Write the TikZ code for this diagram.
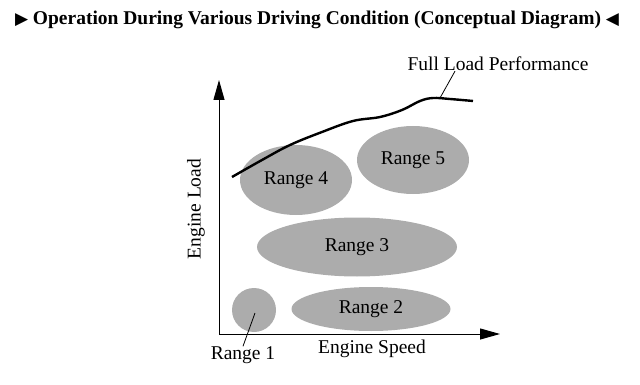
\documentclass[tikz,border=0pt]{standalone}
\usepackage{fontspec}
\setmainfont{Liberation Serif}
\newfontfamily\symfont{DejaVu Sans}
\usetikzlibrary{arrows.meta,shapes.geometric}
\tikzset{
  blob/.style={ellipse, fill=gray!65, inner sep=0pt, font=\fontsize{19.5}{21}\selectfont},
  lbl/.style={font=\fontsize{19.5}{21}\selectfont, inner sep=0pt},
  axis/.style={line width=1pt, -{Triangle[length=20pt,width=11pt]}},
  leader/.style={line width=0.8pt}
}
\begin{document}
\begin{tikzpicture}[x=1pt,y=-1pt]
\useasboundingbox (0,0) rectangle (640,385);
% title
\node[inner sep=0pt, font=\bfseries\fontsize{19.5}{21}\selectfont] (title) at (317,20)
  {{\symfont\fontsize{17}{18}\selectfont ▶}\ Operation During Various Driving Condition (Conceptual Diagram)\ {\symfont\fontsize{17}{18}\selectfont ◀}};
% regions
\node[blob, minimum width=112pt, minimum height=70pt] (r4) at (296,180) {Range 4};
\node[blob, minimum width=112pt, minimum height=68pt] (r5) at (413,160) {Range 5};
\node[blob, minimum width=200pt, minimum height=59pt] (r3) at (357,247) {Range 3};
\node[blob, minimum width=159pt, minimum height=44pt] (r2) at (371,309) {Range 2};
\node[blob, circle, minimum size=44pt] (r1) at (254,310) {};
% axes
\coordinate (o) at (219,334);
\coordinate (ytip) at (219,80);
\coordinate (xtip) at (500,334);
\draw[axis] (o) -- (ytip);
\draw[axis] (o) -- (xtip);
\node[lbl, rotate=90] (ylab) at (196,209) {Engine Load};
\node[lbl] (xlab) at (372,349) {Engine Speed};
% range 1 label
\node[lbl] (l1) at (243,355) {Range 1};
\coordinate (p1) at (255,313);
\draw[leader] (p1) -- (l1.north);
% full load curve
\draw[line width=2.4pt] plot[smooth, tension=0.6] coordinates
  {(232,177) (262,160) (290,145) (322,132) (353,121) (380,117) (402,110) (420,101) (433,98) (450,99) (473,101)};
\node[lbl] (fl) at (498,64) {Full Load Performance};
\coordinate (fp) at (440,98);
\draw[leader] (fp) -- (fl.south -| 455,0);
\end{tikzpicture}
\end{document}
